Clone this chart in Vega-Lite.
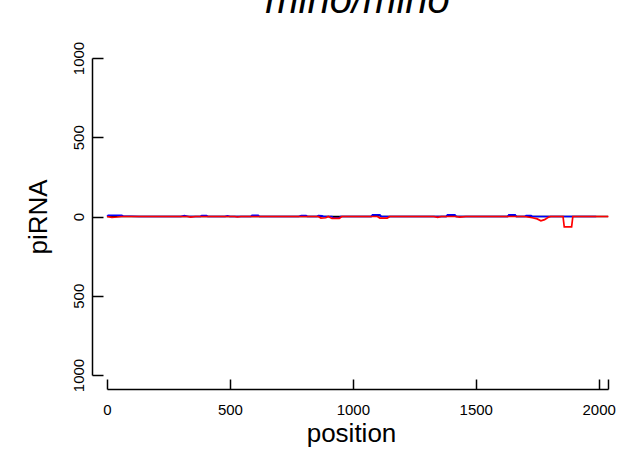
{
  "$schema": "https://vega.github.io/schema/vega-lite/v6.json",
  "width": 501,
  "height": 317,
  "autosize": {"type": "none"},
  "padding": {"left": 107, "top": 58, "right": 12, "bottom": 74},
  "background": "white",
  "config": {"view": {"stroke": null}, "font": "Liberation Sans"},
  "title": {"text": "mino/mino", "fontSize": 40, "fontStyle": "italic", "fontWeight": "normal", "font": "Liberation Sans", "anchor": "middle", "frame": "group", "baseline": "alphabetic", "offset": -12, "color": "black"},
  "data": {"values": [
    {"series": "black", "position": 0, "piRNA": 0},
    {"series": "black", "position": 1075, "piRNA": 0},
    {"series": "black", "position": 1080, "piRNA": 6},
    {"series": "black", "position": 1110, "piRNA": 6},
    {"series": "black", "position": 1115, "piRNA": 0},
    {"series": "black", "position": 1380, "piRNA": 0},
    {"series": "black", "position": 1385, "piRNA": 6},
    {"series": "black", "position": 1415, "piRNA": 6},
    {"series": "black", "position": 1420, "piRNA": 0},
    {"series": "black", "position": 1630, "piRNA": 0},
    {"series": "black", "position": 1635, "piRNA": 8},
    {"series": "black", "position": 1660, "piRNA": 8},
    {"series": "black", "position": 1665, "piRNA": 0},
    {"series": "black", "position": 2038, "piRNA": 0},

    {"series": "blue", "position": 0, "piRNA": 0},
    {"series": "blue", "position": 5, "piRNA": 8},
    {"series": "blue", "position": 60, "piRNA": 8},
    {"series": "blue", "position": 65, "piRNA": 3},
    {"series": "blue", "position": 130, "piRNA": 0},
    {"series": "blue", "position": 300, "piRNA": 0},
    {"series": "blue", "position": 315, "piRNA": 5},
    {"series": "blue", "position": 330, "piRNA": 0},
    {"series": "blue", "position": 380, "piRNA": 0},
    {"series": "blue", "position": 385, "piRNA": 5},
    {"series": "blue", "position": 405, "piRNA": 5},
    {"series": "blue", "position": 410, "piRNA": 0},
    {"series": "blue", "position": 480, "piRNA": 0},
    {"series": "blue", "position": 490, "piRNA": 4},
    {"series": "blue", "position": 500, "piRNA": 0},
    {"series": "blue", "position": 585, "piRNA": 0},
    {"series": "blue", "position": 590, "piRNA": 8},
    {"series": "blue", "position": 615, "piRNA": 8},
    {"series": "blue", "position": 620, "piRNA": 0},
    {"series": "blue", "position": 780, "piRNA": 0},
    {"series": "blue", "position": 790, "piRNA": 5},
    {"series": "blue", "position": 810, "piRNA": 5},
    {"series": "blue", "position": 815, "piRNA": 0},
    {"series": "blue", "position": 855, "piRNA": 0},
    {"series": "blue", "position": 860, "piRNA": 6},
    {"series": "blue", "position": 875, "piRNA": 4},
    {"series": "blue", "position": 880, "piRNA": 0},
    {"series": "blue", "position": 915, "piRNA": 0},
    {"series": "blue", "position": 920, "piRNA": -8},
    {"series": "blue", "position": 945, "piRNA": -8},
    {"series": "blue", "position": 950, "piRNA": 0},
    {"series": "blue", "position": 1075, "piRNA": 0},
    {"series": "blue", "position": 1080, "piRNA": 10},
    {"series": "blue", "position": 1110, "piRNA": 10},
    {"series": "blue", "position": 1115, "piRNA": 0},
    {"series": "blue", "position": 1380, "piRNA": 0},
    {"series": "blue", "position": 1385, "piRNA": 10},
    {"series": "blue", "position": 1415, "piRNA": 10},
    {"series": "blue", "position": 1420, "piRNA": 0},
    {"series": "blue", "position": 1630, "piRNA": 0},
    {"series": "blue", "position": 1635, "piRNA": 10},
    {"series": "blue", "position": 1660, "piRNA": 10},
    {"series": "blue", "position": 1665, "piRNA": 0},
    {"series": "blue", "position": 1700, "piRNA": 0},
    {"series": "blue", "position": 1705, "piRNA": 5},
    {"series": "blue", "position": 1725, "piRNA": 5},
    {"series": "blue", "position": 1730, "piRNA": 0},
    {"series": "blue", "position": 1990, "piRNA": 0},

    {"series": "red", "position": 0, "piRNA": 0},
    {"series": "red", "position": 20, "piRNA": -5},
    {"series": "red", "position": 40, "piRNA": -3},
    {"series": "red", "position": 60, "piRNA": 0},
    {"series": "red", "position": 330, "piRNA": 0},
    {"series": "red", "position": 340, "piRNA": -4},
    {"series": "red", "position": 360, "piRNA": 0},
    {"series": "red", "position": 520, "piRNA": 0},
    {"series": "red", "position": 530, "piRNA": -3},
    {"series": "red", "position": 545, "piRNA": 0},
    {"series": "red", "position": 860, "piRNA": 0},
    {"series": "red", "position": 870, "piRNA": -10},
    {"series": "red", "position": 890, "piRNA": -8},
    {"series": "red", "position": 900, "piRNA": 0},
    {"series": "red", "position": 915, "piRNA": -12},
    {"series": "red", "position": 945, "piRNA": -12},
    {"series": "red", "position": 955, "piRNA": 0},
    {"series": "red", "position": 1100, "piRNA": 0},
    {"series": "red", "position": 1110, "piRNA": -10},
    {"series": "red", "position": 1140, "piRNA": -10},
    {"series": "red", "position": 1150, "piRNA": 0},
    {"series": "red", "position": 1330, "piRNA": 0},
    {"series": "red", "position": 1345, "piRNA": -5},
    {"series": "red", "position": 1360, "piRNA": 0},
    {"series": "red", "position": 1420, "piRNA": 0},
    {"series": "red", "position": 1435, "piRNA": -4},
    {"series": "red", "position": 1460, "piRNA": 0},
    {"series": "red", "position": 1700, "piRNA": 0},
    {"series": "red", "position": 1730, "piRNA": -8},
    {"series": "red", "position": 1750, "piRNA": -15},
    {"series": "red", "position": 1765, "piRNA": -27},
    {"series": "red", "position": 1780, "piRNA": -20},
    {"series": "red", "position": 1795, "piRNA": -5},
    {"series": "red", "position": 1805, "piRNA": 0},
    {"series": "red", "position": 1855, "piRNA": 0},
    {"series": "red", "position": 1860, "piRNA": -65},
    {"series": "red", "position": 1890, "piRNA": -65},
    {"series": "red", "position": 1895, "piRNA": 0},
    {"series": "red", "position": 2040, "piRNA": 0}
  ]},
  "mark": {"type": "line", "strokeWidth": 1.7, "clip": false},
  "encoding": {
    "x": {
      "field": "position", "type": "quantitative",
      "scale": {"domain": [0, 2038], "nice": false, "zero": false},
      "axis": {
        "title": "position", "orient": "bottom", "offset": 14,
        "values": [0, 500, 1000, 1500, 2000, 2038],
        "labelExpr": "datum.value == 2038 ? '' : format(datum.value, 'd')",
        "labelFontSize": 15, "labelPadding": 23, "labelColor": "black", "labelFlush": false, "labelOverlap": false,
        "tickSize": -10, "tickWidth": 1.5, "tickColor": "black",
        "domainWidth": 1.5, "domainColor": "black", "grid": false,
        "titleFontSize": 26, "titleFontWeight": "normal", "titleColor": "black", "titlePadding": 3, "titleX": 244
      }
    },
    "y": {
      "field": "piRNA", "type": "quantitative",
      "scale": {"domain": [-1000, 1000], "nice": false},
      "axis": {
        "title": "piRNA", "orient": "left", "offset": 15,
        "values": [-1000, -500, 0, 500, 1000],
        "labelExpr": "format(abs(datum.value), 'd')",
        "labelAngle": -90, "labelAlign": "center", "labelBaseline": "bottom",
        "labelFontSize": 15, "labelPadding": 17, "labelColor": "black", "labelFlush": false, "labelOverlap": false,
        "tickSize": -11, "tickWidth": 1.5, "tickColor": "black",
        "domainWidth": 1.5, "domainColor": "black", "grid": false,
        "titleFontSize": 26, "titleFontWeight": "normal", "titleColor": "black", "titlePadding": 20
      }
    },
    "color": {
      "field": "series", "type": "nominal",
      "scale": {"domain": ["black", "blue", "red"], "range": ["#000000", "#0000FF", "#FF0000"]},
      "legend": null
    }
  }
}
